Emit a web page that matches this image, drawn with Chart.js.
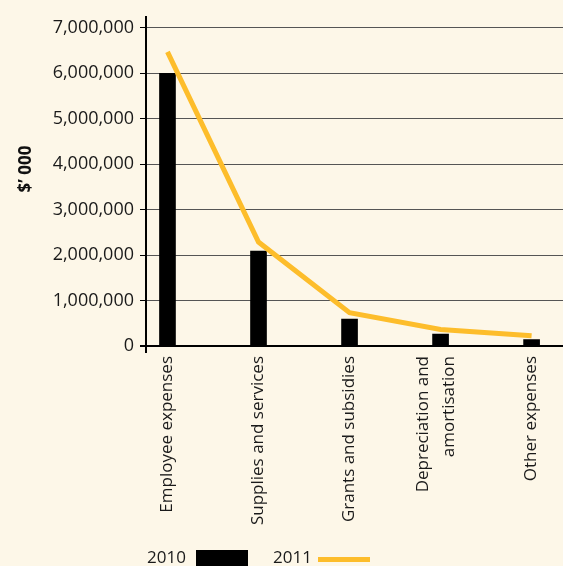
<!DOCTYPE html>
<html>
<head>
<meta charset="utf-8">
<script src="https://cdn.jsdelivr.net/npm/chart.js@4.4.0/dist/chart.umd.min.js"></script>
<style>
  html, body { margin: 0; padding: 0; background: #fdf7e8; }
  canvas { display: block; }
</style>
</head>
<body>
<canvas id="expChart" width="563" height="566"></canvas>
<script>
// data
const categories = [
  'Employee expenses',
  'Supplies and services',
  'Grants and subsidies',
  ['Depreciation and', 'amortisation'],
  'Other expenses'
];
const values2010 = [6000000, 2090000, 600000, 270000, 150000];
const values2011 = [6470000, 2290000, 740000, 370000, 230000];
const yTicks = [0, 1000000, 2000000, 3000000, 4000000, 5000000, 6000000, 7000000];
const seriesNames = ['2010', '2011'];
const yTitle = '$’ 000';

const barColor = '#000000';
const lineColor = '#fdbd2b';
const textColor = '#1a1a1a';

// two-line labels get nudged left so both lines sit around the bar
const lineShift = 0.19;

Chart.defaults.font.family = "'Open Sans', sans-serif";

// axis title + legend drawn by hand, chart.js can't place them like the original
const extras = {
  id: 'extras',
  afterDraw(chart) {
    const ctx = chart.ctx;
    ctx.save();
    ctx.translate(26, 169);
    ctx.rotate(-Math.PI / 2);
    ctx.font = "bold 17px 'Open Sans', sans-serif";
    ctx.fillStyle = '#111';
    ctx.textAlign = 'center';
    ctx.textBaseline = 'middle';
    ctx.fillText(yTitle, 0, 0);
    ctx.restore();

    ctx.save();
    ctx.font = "17px 'Open Sans', sans-serif";
    ctx.fillStyle = textColor;
    ctx.textBaseline = 'middle';
    ctx.fillText(seriesNames[0], 147, 558);
    ctx.fillStyle = barColor;
    ctx.fillRect(196, 550, 52, 16);
    ctx.fillStyle = textColor;
    ctx.fillText(seriesNames[1], 273, 558);
    ctx.strokeStyle = lineColor;
    ctx.lineWidth = 5;
    ctx.beginPath();
    ctx.moveTo(318, 559.5);
    ctx.lineTo(370, 559.5);
    ctx.stroke();
    ctx.restore();
  }
};

new Chart(document.getElementById('expChart'), {
  type: 'bar',
  data: {
    datasets: [
      {
        type: 'line',
        label: seriesNames[1],
        data: values2011.map((v, i) => ({ x: i, y: v })),
        borderColor: lineColor,
        borderWidth: 5,
        pointRadius: 0,
        tension: 0,
        order: 0
      },
      {
        type: 'bar',
        label: seriesNames[0],
        data: values2010.map((v, i) => ({ x: i, y: v })),
        backgroundColor: barColor,
        barThickness: 16,
        order: 1
      }
    ]
  },
  options: {
    responsive: false,
    animation: false,
    layout: { padding: { top: 16, right: 0, bottom: 0, left: 0 } },
    plugins: {
      legend: { display: false },
      tooltip: { enabled: false }
    },
    scales: {
      x: {
        type: 'linear',
        offset: false,
        min: -0.236,
        max: 4.345,
        grid: { display: false },
        border: { display: false },
        afterBuildTicks: s => {
          s.ticks = categories.map((c, i) => ({ value: Array.isArray(c) ? i - lineShift : i }));
        },
        afterFit: s => { s.height = 214; },
        ticks: {
          autoSkip: false,
          minRotation: 90,
          maxRotation: 90,
          padding: -4,
          color: textColor,
          font: { size: 17, lineHeight: 1.53 },
          callback: v => categories[Math.round(v)]
        }
      },
      y: {
        min: -125000,
        max: 7240000,
        afterBuildTicks: s => { s.ticks = yTicks.map(v => ({ value: v })); },
        afterFit: s => { s.width = 146; },
        border: { color: '#000', width: 2 },
        grid: {
          color: c => (c.tick && c.tick.value === 0 ? '#000' : '#555'),
          lineWidth: c => (c.tick && c.tick.value === 0 ? 2 : 1),
          tickLength: 6,
          tickColor: '#000'
        },
        ticks: {
          padding: 6,
          color: textColor,
          font: { size: 18 },
          callback: v => v.toLocaleString('en-US')
        }
      }
    }
  },
  plugins: [extras]
});
</script>
</body>
</html>
